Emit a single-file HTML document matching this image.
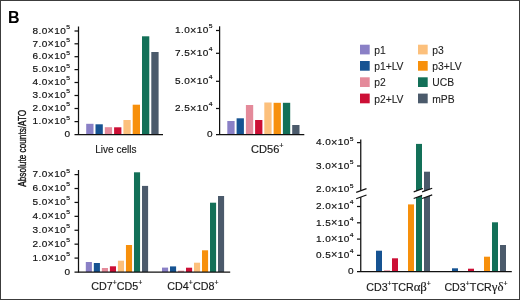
<!DOCTYPE html>
<html><head><meta charset="utf-8"><style>
html,body{margin:0;padding:0;background:#fff;}
body{width:520px;height:300px;overflow:hidden;font-family:"Liberation Sans",sans-serif;}
.wrap{position:relative;width:518px;height:298px;border:1px solid #3c3c3c;}
svg{position:absolute;left:-1px;top:-1px;will-change:transform;}
</style></head><body><div class="wrap">
<svg width="520" height="300" viewBox="0 0 520 300">
<rect x="86.20" y="123.80" width="7.30" height="10.70" fill="#8a80c6"/>
<rect x="95.50" y="124.30" width="7.30" height="10.20" fill="#165392"/>
<rect x="104.80" y="127.20" width="7.30" height="7.30" fill="#e48a9a"/>
<rect x="114.10" y="127.30" width="7.30" height="7.20" fill="#cc0f35"/>
<rect x="123.40" y="120.00" width="7.30" height="14.50" fill="#fcc07c"/>
<rect x="132.70" y="104.70" width="7.30" height="29.80" fill="#f7900c"/>
<rect x="142.00" y="36.30" width="7.30" height="98.20" fill="#137058"/>
<rect x="151.30" y="52.00" width="7.30" height="82.50" fill="#4b5a6b"/>
<rect x="227.30" y="121.00" width="7.30" height="13.50" fill="#8a80c6"/>
<rect x="236.60" y="118.30" width="7.30" height="16.20" fill="#165392"/>
<rect x="245.90" y="105.00" width="7.30" height="29.50" fill="#e48a9a"/>
<rect x="255.10" y="120.00" width="7.30" height="14.50" fill="#cc0f35"/>
<rect x="264.30" y="102.50" width="7.30" height="32.00" fill="#fcc07c"/>
<rect x="273.60" y="102.80" width="7.30" height="31.70" fill="#f7900c"/>
<rect x="282.90" y="102.80" width="7.30" height="31.70" fill="#137058"/>
<rect x="292.20" y="125.00" width="7.30" height="9.50" fill="#4b5a6b"/>
<rect x="85.80" y="262.00" width="6.10" height="10.00" fill="#8a80c6"/>
<rect x="93.83" y="263.00" width="6.10" height="9.00" fill="#165392"/>
<rect x="101.86" y="268.00" width="6.10" height="4.00" fill="#e48a9a"/>
<rect x="109.89" y="266.30" width="6.10" height="5.70" fill="#cc0f35"/>
<rect x="117.92" y="260.70" width="6.10" height="11.30" fill="#fcc07c"/>
<rect x="125.95" y="245.00" width="6.10" height="27.00" fill="#f7900c"/>
<rect x="133.98" y="172.30" width="6.10" height="99.70" fill="#137058"/>
<rect x="142.01" y="185.90" width="6.10" height="86.10" fill="#4b5a6b"/>
<rect x="162.00" y="267.60" width="6.10" height="4.40" fill="#8a80c6"/>
<rect x="170.00" y="266.40" width="6.10" height="5.60" fill="#165392"/>
<rect x="178.00" y="270.70" width="6.10" height="1.30" fill="#e48a9a"/>
<rect x="186.00" y="267.70" width="6.10" height="4.30" fill="#cc0f35"/>
<rect x="194.00" y="262.70" width="6.10" height="9.30" fill="#fcc07c"/>
<rect x="202.00" y="250.30" width="6.10" height="21.70" fill="#f7900c"/>
<rect x="210.00" y="202.70" width="6.10" height="69.30" fill="#137058"/>
<rect x="218.00" y="196.00" width="6.10" height="76.00" fill="#4b5a6b"/>
<rect x="376.00" y="250.70" width="6.00" height="20.90" fill="#165392"/>
<rect x="384.00" y="270.30" width="6.00" height="1.30" fill="#e48a9a"/>
<rect x="392.00" y="258.30" width="6.00" height="13.30" fill="#cc0f35"/>
<rect x="408.00" y="204.40" width="6.00" height="67.20" fill="#f7900c"/>
<rect x="416.00" y="143.90" width="6.00" height="127.70" fill="#137058"/>
<rect x="424.00" y="171.70" width="6.00" height="99.90" fill="#4b5a6b"/>
<rect x="452.00" y="268.30" width="6.00" height="3.30" fill="#165392"/>
<rect x="468.00" y="268.70" width="6.00" height="2.90" fill="#cc0f35"/>
<rect x="484.00" y="256.70" width="6.00" height="14.90" fill="#f7900c"/>
<rect x="492.00" y="222.30" width="6.00" height="49.30" fill="#137058"/>
<rect x="500.00" y="245.00" width="6.00" height="26.60" fill="#4b5a6b"/>
<rect x="360.00" y="44.70" width="9.70" height="9.70" fill="#8a80c6"/>
<rect x="360.00" y="61.00" width="9.70" height="9.70" fill="#165392"/>
<rect x="360.00" y="77.30" width="9.70" height="9.70" fill="#e48a9a"/>
<rect x="360.00" y="93.60" width="9.70" height="9.70" fill="#cc0f35"/>
<rect x="418.00" y="44.70" width="9.70" height="9.70" fill="#fcc07c"/>
<rect x="418.00" y="61.00" width="9.70" height="9.70" fill="#f7900c"/>
<rect x="418.00" y="77.30" width="9.70" height="9.70" fill="#137058"/>
<rect x="418.00" y="93.60" width="9.70" height="9.70" fill="#4b5a6b"/>
<line x1="78.50" y1="26.50" x2="78.50" y2="135.00" stroke="#111" stroke-width="1.25"/>
<line x1="74.50" y1="134.50" x2="163.00" y2="134.50" stroke="#111" stroke-width="1.25"/>
<line x1="74.50" y1="31.00" x2="78.50" y2="31.00" stroke="#111" stroke-width="1.25"/>
<text transform="translate(70.00,33.70) scale(1.09,1)" font-family="Liberation Sans" font-size="9.2" text-anchor="end" fill="#111" stroke="#111" stroke-width="0.18" letter-spacing="0.35">8.0<tspan font-size="10.0" dy="0.3">×</tspan><tspan dy="-0.3">10</tspan><tspan font-size="6.2" dy="-4.8" letter-spacing="0">5</tspan></text>
<line x1="74.50" y1="43.80" x2="78.50" y2="43.80" stroke="#111" stroke-width="1.25"/>
<text transform="translate(70.00,46.50) scale(1.09,1)" font-family="Liberation Sans" font-size="9.2" text-anchor="end" fill="#111" stroke="#111" stroke-width="0.18" letter-spacing="0.35">7.0<tspan font-size="10.0" dy="0.3">×</tspan><tspan dy="-0.3">10</tspan><tspan font-size="6.2" dy="-4.8" letter-spacing="0">5</tspan></text>
<line x1="74.50" y1="56.70" x2="78.50" y2="56.70" stroke="#111" stroke-width="1.25"/>
<text transform="translate(70.00,59.40) scale(1.09,1)" font-family="Liberation Sans" font-size="9.2" text-anchor="end" fill="#111" stroke="#111" stroke-width="0.18" letter-spacing="0.35">6.0<tspan font-size="10.0" dy="0.3">×</tspan><tspan dy="-0.3">10</tspan><tspan font-size="6.2" dy="-4.8" letter-spacing="0">5</tspan></text>
<line x1="74.50" y1="69.60" x2="78.50" y2="69.60" stroke="#111" stroke-width="1.25"/>
<text transform="translate(70.00,72.30) scale(1.09,1)" font-family="Liberation Sans" font-size="9.2" text-anchor="end" fill="#111" stroke="#111" stroke-width="0.18" letter-spacing="0.35">5.0<tspan font-size="10.0" dy="0.3">×</tspan><tspan dy="-0.3">10</tspan><tspan font-size="6.2" dy="-4.8" letter-spacing="0">5</tspan></text>
<line x1="74.50" y1="82.50" x2="78.50" y2="82.50" stroke="#111" stroke-width="1.25"/>
<text transform="translate(70.00,85.20) scale(1.09,1)" font-family="Liberation Sans" font-size="9.2" text-anchor="end" fill="#111" stroke="#111" stroke-width="0.18" letter-spacing="0.35">4.0<tspan font-size="10.0" dy="0.3">×</tspan><tspan dy="-0.3">10</tspan><tspan font-size="6.2" dy="-4.8" letter-spacing="0">5</tspan></text>
<line x1="74.50" y1="95.50" x2="78.50" y2="95.50" stroke="#111" stroke-width="1.25"/>
<text transform="translate(70.00,98.20) scale(1.09,1)" font-family="Liberation Sans" font-size="9.2" text-anchor="end" fill="#111" stroke="#111" stroke-width="0.18" letter-spacing="0.35">3.0<tspan font-size="10.0" dy="0.3">×</tspan><tspan dy="-0.3">10</tspan><tspan font-size="6.2" dy="-4.8" letter-spacing="0">5</tspan></text>
<line x1="74.50" y1="108.50" x2="78.50" y2="108.50" stroke="#111" stroke-width="1.25"/>
<text transform="translate(70.00,111.20) scale(1.09,1)" font-family="Liberation Sans" font-size="9.2" text-anchor="end" fill="#111" stroke="#111" stroke-width="0.18" letter-spacing="0.35">2.0<tspan font-size="10.0" dy="0.3">×</tspan><tspan dy="-0.3">10</tspan><tspan font-size="6.2" dy="-4.8" letter-spacing="0">5</tspan></text>
<line x1="74.50" y1="121.60" x2="78.50" y2="121.60" stroke="#111" stroke-width="1.25"/>
<text transform="translate(70.00,124.30) scale(1.09,1)" font-family="Liberation Sans" font-size="9.2" text-anchor="end" fill="#111" stroke="#111" stroke-width="0.18" letter-spacing="0.35">1.0<tspan font-size="10.0" dy="0.3">×</tspan><tspan dy="-0.3">10</tspan><tspan font-size="6.2" dy="-4.8" letter-spacing="0">5</tspan></text>
<text transform="translate(70.00,137.20) scale(1.09,1)" font-family="Liberation Sans" font-size="9.2" text-anchor="end" fill="#111" stroke="#111" stroke-width="0.18">0</text>
<line x1="219.60" y1="26.30" x2="219.60" y2="135.00" stroke="#111" stroke-width="1.25"/>
<line x1="216.00" y1="134.50" x2="304.30" y2="134.50" stroke="#111" stroke-width="1.25"/>
<line x1="216.00" y1="30.50" x2="219.60" y2="30.50" stroke="#111" stroke-width="1.25"/>
<text transform="translate(212.50,33.20) scale(1.09,1)" font-family="Liberation Sans" font-size="9.2" text-anchor="end" fill="#111" stroke="#111" stroke-width="0.18" letter-spacing="0.35">1.0<tspan font-size="10.0" dy="0.3">×</tspan><tspan dy="-0.3">10</tspan><tspan font-size="6.2" dy="-4.8" letter-spacing="0">5</tspan></text>
<line x1="216.00" y1="53.30" x2="219.60" y2="53.30" stroke="#111" stroke-width="1.25"/>
<text transform="translate(212.50,56.00) scale(1.09,1)" font-family="Liberation Sans" font-size="9.2" text-anchor="end" fill="#111" stroke="#111" stroke-width="0.18" letter-spacing="0.35">7.5<tspan font-size="10.0" dy="0.3">×</tspan><tspan dy="-0.3">10</tspan><tspan font-size="6.2" dy="-4.8" letter-spacing="0">4</tspan></text>
<line x1="216.00" y1="81.30" x2="219.60" y2="81.30" stroke="#111" stroke-width="1.25"/>
<text transform="translate(212.50,84.00) scale(1.09,1)" font-family="Liberation Sans" font-size="9.2" text-anchor="end" fill="#111" stroke="#111" stroke-width="0.18" letter-spacing="0.35">5.0<tspan font-size="10.0" dy="0.3">×</tspan><tspan dy="-0.3">10</tspan><tspan font-size="6.2" dy="-4.8" letter-spacing="0">4</tspan></text>
<line x1="216.00" y1="108.50" x2="219.60" y2="108.50" stroke="#111" stroke-width="1.25"/>
<text transform="translate(212.50,111.20) scale(1.09,1)" font-family="Liberation Sans" font-size="9.2" text-anchor="end" fill="#111" stroke="#111" stroke-width="0.18" letter-spacing="0.35">2.5<tspan font-size="10.0" dy="0.3">×</tspan><tspan dy="-0.3">10</tspan><tspan font-size="6.2" dy="-4.8" letter-spacing="0">4</tspan></text>
<text transform="translate(212.50,137.20) scale(1.09,1)" font-family="Liberation Sans" font-size="9.2" text-anchor="end" fill="#111" stroke="#111" stroke-width="0.18">0</text>
<line x1="78.50" y1="170.00" x2="78.50" y2="272.50" stroke="#111" stroke-width="1.25"/>
<line x1="74.50" y1="272.00" x2="230.20" y2="272.00" stroke="#111" stroke-width="1.25"/>
<text transform="translate(70.00,274.70) scale(1.09,1)" font-family="Liberation Sans" font-size="9.2" text-anchor="end" fill="#111" stroke="#111" stroke-width="0.18">0</text>
<line x1="74.50" y1="258.09" x2="78.50" y2="258.09" stroke="#111" stroke-width="1.25"/>
<text transform="translate(70.00,260.79) scale(1.09,1)" font-family="Liberation Sans" font-size="9.2" text-anchor="end" fill="#111" stroke="#111" stroke-width="0.18" letter-spacing="0.35">1.0<tspan font-size="10.0" dy="0.3">×</tspan><tspan dy="-0.3">10</tspan><tspan font-size="6.2" dy="-4.8" letter-spacing="0">5</tspan></text>
<line x1="74.50" y1="244.17" x2="78.50" y2="244.17" stroke="#111" stroke-width="1.25"/>
<text transform="translate(70.00,246.87) scale(1.09,1)" font-family="Liberation Sans" font-size="9.2" text-anchor="end" fill="#111" stroke="#111" stroke-width="0.18" letter-spacing="0.35">2.0<tspan font-size="10.0" dy="0.3">×</tspan><tspan dy="-0.3">10</tspan><tspan font-size="6.2" dy="-4.8" letter-spacing="0">5</tspan></text>
<line x1="74.50" y1="230.26" x2="78.50" y2="230.26" stroke="#111" stroke-width="1.25"/>
<text transform="translate(70.00,232.96) scale(1.09,1)" font-family="Liberation Sans" font-size="9.2" text-anchor="end" fill="#111" stroke="#111" stroke-width="0.18" letter-spacing="0.35">3.0<tspan font-size="10.0" dy="0.3">×</tspan><tspan dy="-0.3">10</tspan><tspan font-size="6.2" dy="-4.8" letter-spacing="0">5</tspan></text>
<line x1="74.50" y1="216.34" x2="78.50" y2="216.34" stroke="#111" stroke-width="1.25"/>
<text transform="translate(70.00,219.04) scale(1.09,1)" font-family="Liberation Sans" font-size="9.2" text-anchor="end" fill="#111" stroke="#111" stroke-width="0.18" letter-spacing="0.35">4.0<tspan font-size="10.0" dy="0.3">×</tspan><tspan dy="-0.3">10</tspan><tspan font-size="6.2" dy="-4.8" letter-spacing="0">5</tspan></text>
<line x1="74.50" y1="202.43" x2="78.50" y2="202.43" stroke="#111" stroke-width="1.25"/>
<text transform="translate(70.00,205.13) scale(1.09,1)" font-family="Liberation Sans" font-size="9.2" text-anchor="end" fill="#111" stroke="#111" stroke-width="0.18" letter-spacing="0.35">5.0<tspan font-size="10.0" dy="0.3">×</tspan><tspan dy="-0.3">10</tspan><tspan font-size="6.2" dy="-4.8" letter-spacing="0">5</tspan></text>
<line x1="74.50" y1="188.51" x2="78.50" y2="188.51" stroke="#111" stroke-width="1.25"/>
<text transform="translate(70.00,191.21) scale(1.09,1)" font-family="Liberation Sans" font-size="9.2" text-anchor="end" fill="#111" stroke="#111" stroke-width="0.18" letter-spacing="0.35">6.0<tspan font-size="10.0" dy="0.3">×</tspan><tspan dy="-0.3">10</tspan><tspan font-size="6.2" dy="-4.8" letter-spacing="0">5</tspan></text>
<line x1="74.50" y1="174.60" x2="78.50" y2="174.60" stroke="#111" stroke-width="1.25"/>
<text transform="translate(70.00,177.30) scale(1.09,1)" font-family="Liberation Sans" font-size="9.2" text-anchor="end" fill="#111" stroke="#111" stroke-width="0.18" letter-spacing="0.35">7.0<tspan font-size="10.0" dy="0.3">×</tspan><tspan dy="-0.3">10</tspan><tspan font-size="6.2" dy="-4.8" letter-spacing="0">5</tspan></text>
<line x1="360.75" y1="139.60" x2="360.75" y2="190.60" stroke="#111" stroke-width="1.25"/>
<line x1="360.75" y1="196.90" x2="360.75" y2="272.10" stroke="#111" stroke-width="1.25"/>
<line x1="357.00" y1="271.60" x2="511.80" y2="271.60" stroke="#111" stroke-width="1.25"/>
<line x1="357.00" y1="142.60" x2="360.75" y2="142.60" stroke="#111" stroke-width="1.25"/>
<text transform="translate(353.50,145.30) scale(1.09,1)" font-family="Liberation Sans" font-size="9.2" text-anchor="end" fill="#111" stroke="#111" stroke-width="0.18" letter-spacing="0.35">4.0<tspan font-size="10.0" dy="0.3">×</tspan><tspan dy="-0.3">10</tspan><tspan font-size="6.2" dy="-4.8" letter-spacing="0">5</tspan></text>
<line x1="357.00" y1="166.00" x2="360.75" y2="166.00" stroke="#111" stroke-width="1.25"/>
<text transform="translate(353.50,168.70) scale(1.09,1)" font-family="Liberation Sans" font-size="9.2" text-anchor="end" fill="#111" stroke="#111" stroke-width="0.18" letter-spacing="0.35">3.0<tspan font-size="10.0" dy="0.3">×</tspan><tspan dy="-0.3">10</tspan><tspan font-size="6.2" dy="-4.8" letter-spacing="0">5</tspan></text>
<text transform="translate(353.50,192.30) scale(1.09,1)" font-family="Liberation Sans" font-size="9.2" text-anchor="end" fill="#111" stroke="#111" stroke-width="0.18" letter-spacing="0.35">2.0<tspan font-size="10.0" dy="0.3">×</tspan><tspan dy="-0.3">10</tspan><tspan font-size="6.2" dy="-4.8" letter-spacing="0">5</tspan></text>
<line x1="357.00" y1="206.50" x2="360.75" y2="206.50" stroke="#111" stroke-width="1.25"/>
<text transform="translate(353.50,209.20) scale(1.09,1)" font-family="Liberation Sans" font-size="9.2" text-anchor="end" fill="#111" stroke="#111" stroke-width="0.18" letter-spacing="0.35">2.0<tspan font-size="10.0" dy="0.3">×</tspan><tspan dy="-0.3">10</tspan><tspan font-size="6.2" dy="-4.8" letter-spacing="0">4</tspan></text>
<line x1="357.00" y1="222.80" x2="360.75" y2="222.80" stroke="#111" stroke-width="1.25"/>
<text transform="translate(353.50,225.50) scale(1.09,1)" font-family="Liberation Sans" font-size="9.2" text-anchor="end" fill="#111" stroke="#111" stroke-width="0.18" letter-spacing="0.35">1.5<tspan font-size="10.0" dy="0.3">×</tspan><tspan dy="-0.3">10</tspan><tspan font-size="6.2" dy="-4.8" letter-spacing="0">4</tspan></text>
<line x1="357.00" y1="239.10" x2="360.75" y2="239.10" stroke="#111" stroke-width="1.25"/>
<text transform="translate(353.50,241.80) scale(1.09,1)" font-family="Liberation Sans" font-size="9.2" text-anchor="end" fill="#111" stroke="#111" stroke-width="0.18" letter-spacing="0.35">1.0<tspan font-size="10.0" dy="0.3">×</tspan><tspan dy="-0.3">10</tspan><tspan font-size="6.2" dy="-4.8" letter-spacing="0">4</tspan></text>
<line x1="357.00" y1="255.35" x2="360.75" y2="255.35" stroke="#111" stroke-width="1.25"/>
<text transform="translate(353.50,258.05) scale(1.09,1)" font-family="Liberation Sans" font-size="9.2" text-anchor="end" fill="#111" stroke="#111" stroke-width="0.18" letter-spacing="0.35">0.5<tspan font-size="10.0" dy="0.3">×</tspan><tspan dy="-0.3">10</tspan><tspan font-size="6.2" dy="-4.8" letter-spacing="0">4</tspan></text>
<text transform="translate(353.50,274.30) scale(1.09,1)" font-family="Liberation Sans" font-size="9.2" text-anchor="end" fill="#111" stroke="#111" stroke-width="0.18">0</text>
<polygon points="413.70,191.90 423.00,188.55 423.00,195.15 413.70,198.50" fill="#fff"/>
<line x1="413.70" y1="191.90" x2="423.00" y2="188.55" stroke="#111" stroke-width="1.2"/>
<line x1="413.70" y1="198.50" x2="423.00" y2="195.15" stroke="#111" stroke-width="1.2"/>
<polygon points="422.10,191.90 432.20,188.26 432.20,194.86 422.10,198.50" fill="#fff"/>
<line x1="422.10" y1="191.90" x2="432.20" y2="188.26" stroke="#111" stroke-width="1.2"/>
<line x1="422.10" y1="198.50" x2="432.20" y2="194.86" stroke="#111" stroke-width="1.2"/>
<polygon points="356.20,192.40 366.50,188.59 366.50,194.99 356.20,198.80" fill="#fff"/>
<line x1="356.20" y1="192.40" x2="366.50" y2="188.59" stroke="#111" stroke-width="1.2"/>
<line x1="356.20" y1="198.80" x2="366.50" y2="194.99" stroke="#111" stroke-width="1.2"/>
<text transform="translate(95.3,152.7) scale(1.0,1)" font-family="Liberation Sans" font-size="10" fill="#1a1a1a" stroke="#1a1a1a" stroke-width="0.15"><tspan>Live cells</tspan></text>
<text transform="translate(251.0,152.9) scale(1.11,1)" font-family="Liberation Sans" font-size="10" fill="#1a1a1a" stroke="#1a1a1a" stroke-width="0.15"><tspan>CD56</tspan><tspan font-size="6.5" dy="-4.6">+</tspan></text>
<text transform="translate(91.2,290.0) scale(1.075,1)" font-family="Liberation Sans" font-size="10" fill="#1a1a1a" stroke="#1a1a1a" stroke-width="0.15"><tspan>CD7</tspan><tspan font-size="6.5" dy="-4.6">+</tspan><tspan dy="4.6">CD5</tspan><tspan font-size="6.5" dy="-4.6">+</tspan></text>
<text transform="translate(167.3,290.0) scale(1.075,1)" font-family="Liberation Sans" font-size="10" fill="#1a1a1a" stroke="#1a1a1a" stroke-width="0.15"><tspan>CD4</tspan><tspan font-size="6.5" dy="-4.6">+</tspan><tspan dy="4.6">CD8</tspan><tspan font-size="6.5" dy="-4.6">+</tspan></text>
<text transform="translate(366.2,290.9) scale(1.07,1)" font-family="Liberation Sans" font-size="10" fill="#1a1a1a" stroke="#1a1a1a" stroke-width="0.15"><tspan>CD3</tspan><tspan font-size="6.5" dy="-4.6">+</tspan><tspan dy="4.6">TCR</tspan><tspan font-family="Liberation Serif" font-size="12">αβ</tspan><tspan font-size="6.5" dy="-4.6">+</tspan></text>
<text transform="translate(444.4,290.9) scale(1.07,1)" font-family="Liberation Sans" font-size="10" fill="#1a1a1a" stroke="#1a1a1a" stroke-width="0.15"><tspan>CD3</tspan><tspan font-size="6.5" dy="-4.6">+</tspan><tspan dy="4.6">TCR</tspan><tspan font-family="Liberation Serif" font-size="12">γδ</tspan><tspan font-size="6.5" dy="-4.6">+</tspan></text>
<text x="374.2" y="53.60" font-family="Liberation Sans" font-size="10.3" fill="#222" stroke="#222" stroke-width="0.1">p1</text>
<text x="374.2" y="69.90" font-family="Liberation Sans" font-size="10.3" fill="#222" stroke="#222" stroke-width="0.1">p1+LV</text>
<text x="374.2" y="86.20" font-family="Liberation Sans" font-size="10.3" fill="#222" stroke="#222" stroke-width="0.1">p2</text>
<text x="374.2" y="102.50" font-family="Liberation Sans" font-size="10.3" fill="#222" stroke="#222" stroke-width="0.1">p2+LV</text>
<text x="432.3" y="53.60" font-family="Liberation Sans" font-size="10.3" fill="#222" stroke="#222" stroke-width="0.1">p3</text>
<text x="432.3" y="69.90" font-family="Liberation Sans" font-size="10.3" fill="#222" stroke="#222" stroke-width="0.1">p3+LV</text>
<text x="432.3" y="86.20" font-family="Liberation Sans" font-size="10.3" fill="#222" stroke="#222" stroke-width="0.1">UCB</text>
<text x="432.3" y="102.50" font-family="Liberation Sans" font-size="10.3" fill="#222" stroke="#222" stroke-width="0.1">mPB</text>
<text transform="translate(26.3,186.7) rotate(-90) scale(0.735,1)" font-family="Liberation Sans" font-size="11.2" fill="#111" stroke="#111" stroke-width="0.35">Absolute counts/ATO</text>
<text x="8.0" y="22.7" font-family="Liberation Sans" font-size="16" font-weight="bold" fill="#000">B</text>
</svg></div></body></html>
